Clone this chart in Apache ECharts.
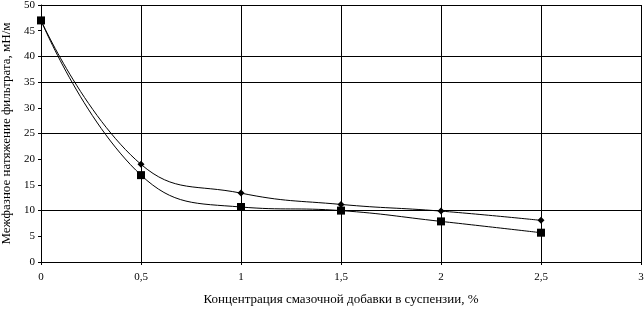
<!DOCTYPE html>
<html><head><meta charset="utf-8">
<script src="https://cdn.jsdelivr.net/npm/echarts@6/dist/echarts.min.js"></script>
<style>html,body{margin:0;padding:0;background:#fff}#c{width:644px;height:311px}</style>
</head><body><div id="c"></div>
<script>
const concentration = [0, 0.5, 1, 1.5, 2, 2.5];
const seriesDiamond = [47, 19.0, 13.4, 11.2, 9.9, 8.1];
const seriesSquare = [47, 16.9, 10.7, 10.0, 7.9, 5.7];
const hGridValues = [50, 40, 35, 25, 10];
const xTitle = 'Концентрация смазочной добавки в суспензии, %';
const yTitle = 'Межфазное натяжение фильтрата, мН/м';

const font = 'Liberation Serif, Times New Roman, serif';
const chart = echarts.init(document.getElementById('c'), null, {renderer: 'canvas'});
chart.setOption({
  animation: false,
  backgroundColor: '#fff',
  grid: {left: 41, right: 3, top: 5, bottom: 49, containLabel: false, outerBoundsMode: 'none'},
  xAxis: {
    type: 'value', min: 0, max: 3, interval: 0.5,
    name: xTitle, nameLocation: 'middle', nameGap: 31,
    nameTextStyle: {fontFamily: font, fontSize: 13, color: '#000'},
    axisLine: {lineStyle: {color: '#000', width: 1}},
    axisTick: {show: true, length: 3, lineStyle: {color: '#000'}},
    axisLabel: {fontFamily: font, fontSize: 11, color: '#000', margin: 10,
      formatter: v => String(v).replace('.', ',')},
    splitLine: {show: true, lineStyle: {color: '#000', width: 1}}
  },
  yAxis: {
    type: 'value', min: 0, max: 50, interval: 5,
    name: yTitle, nameLocation: 'middle', nameGap: 28,
    nameTextStyle: {fontFamily: font, fontSize: 13, color: '#000'},
    axisLine: {show: true, lineStyle: {color: '#000', width: 1}},
    axisTick: {show: true, length: 3, lineStyle: {color: '#000'}},
    axisLabel: {fontFamily: font, fontSize: 11, color: '#000', margin: 6},
    splitLine: {show: false}
  },
  series: [
    {
      type: 'line', data: concentration.map((x, i) => [x, seriesDiamond[i]]),
      smooth: 0.45, symbol: 'diamond', symbolSize: 7,
      lineStyle: {color: '#000', width: 1}, itemStyle: {color: '#000'},
      markLine: {
        silent: true, symbol: 'none', label: {show: false},
        lineStyle: {color: '#000', width: 1, type: 'solid'},
        data: hGridValues.map(v => ({yAxis: v}))
      },
      z: 3
    },
    {
      type: 'line', data: concentration.map((x, i) => [x, seriesSquare[i]]),
      smooth: 0.45, symbol: 'rect', symbolSize: 8,
      lineStyle: {color: '#000', width: 1}, itemStyle: {color: '#000'},
      z: 4
    }
  ]
});
</script></body></html>
